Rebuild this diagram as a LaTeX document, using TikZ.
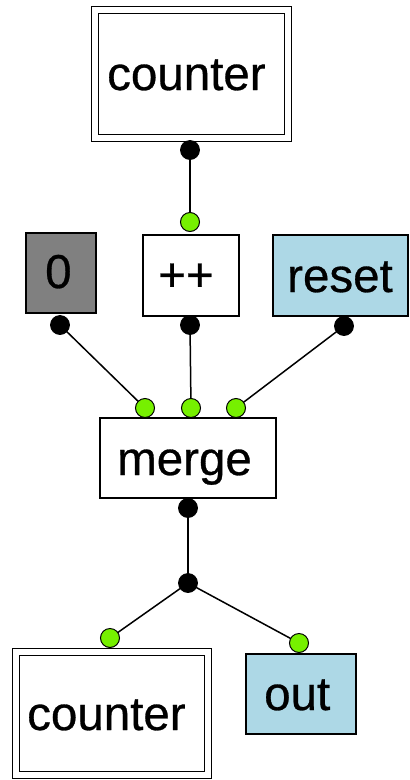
\documentclass[tikz,border=0pt]{standalone}
\usepackage{fontspec}
\setmainfont{Liberation Sans}
\newfontfamily\lblfont{Liberation Sans}[FakeBold=0.6]
\definecolor{portgreen}{RGB}{118,240,0}
\definecolor{boxgray}{RGB}{128,128,128}
\definecolor{boxblue}{RGB}{173,216,230}
\tikzset{
  box/.style={draw=black, line width=1.6pt, rectangle, inner sep=0pt},
  dbox/.style={draw=black, line width=1.6pt, double=white, double distance=5.5pt, rectangle, inner sep=0pt, fill=white},
  lbl/.style={anchor=base west, inner sep=0pt, font=\lblfont\fontsize{47.5}{50}\selectfont},
  outport/.style={circle, fill=black, draw=black, line width=0.8pt, minimum size=19pt, inner sep=0pt},
  inport/.style={circle, fill=portgreen, draw=black, line width=1pt, minimum size=19pt, inner sep=0pt},
  wire/.style={draw=black, line width=1.5pt}
}
\begin{document}
\begin{tikzpicture}[x=1pt,y=-1pt]
\useasboundingbox (0,0) rectangle (410,780);
% boxes
\node[dbox, minimum width=193pt, minimum height=128pt] (ctop) at (191.5,74) {};
\node[box, fill=boxgray, minimum width=70pt, minimum height=80pt] (zero) at (61,273) {};
\node[box, fill=white, minimum width=96pt, minimum height=81pt] (inc) at (191,275.5) {};
\node[box, fill=boxblue, minimum width=135pt, minimum height=81pt] (reset) at (340.5,275.5) {};
\node[box, fill=white, minimum width=176pt, minimum height=80pt] (merge) at (188,458) {};
\node[dbox, minimum width=192pt, minimum height=123pt] (cbot) at (112,713.5) {};
\node[box, fill=boxblue, minimum width=110pt, minimum height=80pt] (out) at (301,694) {};
% labels
\node[lbl] (tctop) at (107,90) {counter};
\node[lbl] (tzero) at (45,288) {0};
\node[lbl] (tinc) at (158,291) {++};
\node[lbl] (treset) at (287,292) {reset};
\node[lbl] (tmerge) at (117,475) {merge};
\node[lbl] (tout) at (264,710) {out};
\node[lbl] (tcbot) at (27,730) {counter};
% wires
\coordinate (pctop) at (190,150);
\coordinate (pincin) at (190,222);
\coordinate (pzero) at (60,325);
\coordinate (pincout) at (190,325);
\coordinate (preset) at (344,326);
\coordinate (pm1) at (145,408);
\coordinate (pm2) at (191,408);
\coordinate (pm3) at (236,408);
\coordinate (pmout) at (188,508);
\coordinate (pj) at (188,583);
\coordinate (pcbot) at (110,638);
\coordinate (pout) at (299,643);
\draw[wire] (pctop) -- (pincin);
\draw[wire] (pzero) -- (pm1);
\draw[wire] (pincout) -- (pm2);
\draw[wire] (preset) -- (pm3);
\draw[wire] (pmout) -- (pj);
\draw[wire] (pj) -- (pcbot);
\draw[wire] (pj) -- (pout);
% ports
\node[outport] (o1) at (pctop) {};
\node[inport] (i1) at (pincin) {};
\node[outport] (o2) at (pzero) {};
\node[outport] (o3) at (pincout) {};
\node[outport] (o4) at (preset) {};
\node[inport] (i2) at (pm1) {};
\node[inport] (i3) at (pm2) {};
\node[inport] (i4) at (pm3) {};
\node[outport] (o5) at (pmout) {};
\node[outport] (j) at (pj) {};
\node[inport] (i5) at (pcbot) {};
\node[inport] (i6) at (pout) {};
\end{tikzpicture}
\end{document}
